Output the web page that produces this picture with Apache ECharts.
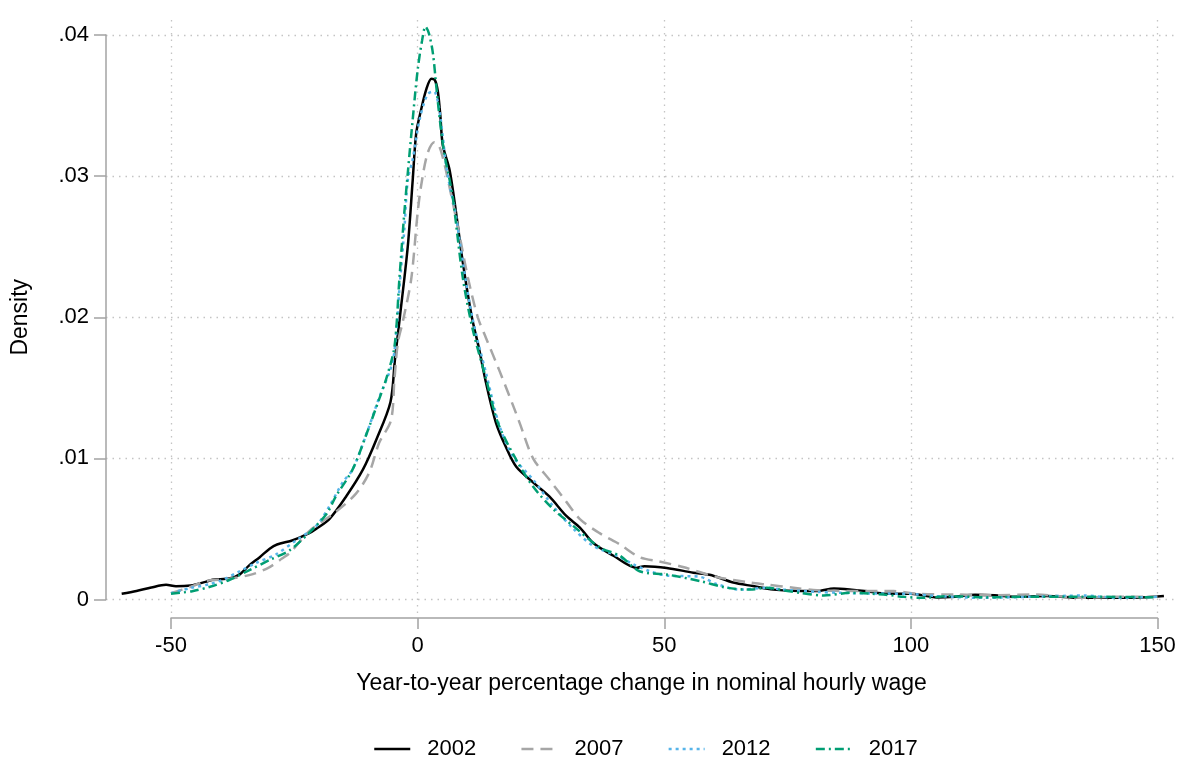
<!DOCTYPE html>
<html><head><meta charset="utf-8">
<script src="https://cdn.jsdelivr.net/npm/echarts@6/dist/echarts.min.js"></script>
<style>html,body{margin:0;padding:0;background:#fff}#c{width:1187px;height:761px}</style>
</head><body><div id="c"></div>
<script>
// Series names
const years = ['2002', '2007', '2012', '2017'];

// 2002
const x02 = [-60,-57,-54,-51,-49,-46,-43,-41.6,-38,-36,-34.2,-32,-30,-28.5,-25.3,-22,-20.6,-17.9,-14.5,-11.1,-8.4,-5.5,-4.6,-3.6,-2.0,-1.0,-0.3,0.7,1.8,2.8,3.5,4.1,4.6,5.1,6.5,7.8,9.2,11,12.5,13.9,15.9,17.9,20,23.4,26.7,30.2,32.9,35.6,39.7,44.4,46,50.5,55.9,59.2,64,68,72.1,77.5,81,84.4,88,91.2,95,100,105.3,109,113,117,121,127.6,134.4,141.8,145.2,151.3];
const y02 = [0.0004,0.0006,0.00085,0.00104,0.00094,0.001,0.00125,0.0014,0.0015,0.0018,0.0024,0.003,0.0036,0.0039,0.0042,0.0047,0.005,0.0057,0.0073,0.0092,0.0113,0.0140,0.017,0.0200,0.025,0.0297,0.033,0.0347,0.0362,0.0369,0.0368,0.036,0.0343,0.0322,0.0304,0.0274,0.0238,0.02,0.0177,0.0153,0.0125,0.0108,0.0094,0.0083,0.0073,0.0059,0.0051,0.004,0.0031,0.00224,0.00236,0.00224,0.0019,0.00175,0.0012,0.00095,0.0007,0.0006,0.0006,0.00078,0.0007,0.00058,0.0004,0.0004,0.00015,0.0002,0.00033,0.0003,0.0002,0.00024,0.00012,0.00014,0.00012,0.00024];

// 2007
const x07 = [-50,-46,-43,-40,-37.5,-33.4,-30,-27.5,-25.9,-21.8,-16.6,-12.5,-9.8,-7.8,-5.4,-4.7,-4.0,-3.0,-1.3,0,0.7,2.0,3.4,4.4,5.4,6.0,8.5,10.2,12.2,13.9,16.6,19.4,20.7,23.4,26.7,30.2,32.9,36.9,41,45,49,53.8,60.6,67.4,70.8,76.2,81,88,96.5,101.2,109.4,117,125,135.2,142,150];
const y07 = [0.00045,0.0009,0.0013,0.0014,0.0015,0.0018,0.0023,0.0029,0.0033,0.0049,0.0062,0.0075,0.009,0.0111,0.0127,0.0156,0.0182,0.0197,0.0227,0.0274,0.0293,0.0316,0.0324,0.0321,0.0309,0.030,0.0258,0.0228,0.02,0.0185,0.0162,0.0137,0.0125,0.0100,0.0085,0.0069,0.0057,0.0047,0.0039,0.0030,0.0027,0.0023,0.0016,0.0012,0.00106,0.00083,0.00066,0.0006,0.0006,0.0004,0.00035,0.0003,0.00035,0.00012,0.0002,0.0002];

// 2012
const x12 = [-50,-46.2,-42,-39.5,-36.1,-32.7,-28.7,-24.6,-20.6,-17.9,-15.2,-13.2,-10.5,-7.8,-5.1,-4.2,-3.7,-2.7,-2.0,-1.0,0.4,2.0,3.3,4.3,5.1,5.8,6.8,7.5,9.2,11.2,13.9,16.6,19.4,23.4,27.5,31.6,35.6,40.4,43.7,47.1,50.5,57.3,60.6,65.4,70.8,74.1,81,85.7,94.5,100,105.3,114.8,125,135.2,141.8,150];
const y12 = [0.00045,0.0008,0.0011,0.0014,0.002,0.0026,0.0032,0.0042,0.0052,0.0066,0.0083,0.0092,0.0116,0.0143,0.0168,0.0195,0.022,0.0262,0.0297,0.0312,0.034,0.0358,0.036,0.0349,0.0328,0.0307,0.0288,0.0278,0.0238,0.0198,0.016,0.0123,0.0101,0.0085,0.0066,0.005,0.0038,0.0031,0.0025,0.002,0.0017,0.0016,0.0011,0.0007,0.00083,0.0007,0.00054,0.00047,0.00042,0.0004,0.00024,0.00012,0.0002,0.00028,0.00012,0.00019];

// 2017
const x17 = [-50,-45.7,-42.1,-38.1,-34,-30,-25.9,-21.8,-18.4,-16.6,-13.2,-10.5,-7.8,-6.4,-4.7,-3.7,-2.7,-2.0,-1.0,0,0.9,1.6,2.3,3.1,3.8,4.5,5.4,6.5,7.2,9.2,11.2,13.9,16.3,20,23.4,27.5,31.6,36.9,41,45,50.5,57.3,62.7,67.4,70.8,75,77.5,82.3,87.7,94.5,98.6,102.6,108.1,115,125,135,150];
const y17 = [0.0004,0.00059,0.0009,0.0014,0.0021,0.0028,0.0035,0.0048,0.0061,0.0073,0.0092,0.0116,0.0142,0.0156,0.0179,0.0227,0.0274,0.0302,0.034,0.0375,0.0396,0.0406,0.0401,0.0387,0.0363,0.034,0.0316,0.0297,0.0283,0.0227,0.0191,0.0156,0.0125,0.0099,0.008,0.0064,0.0052,0.0037,0.0031,0.002,0.00177,0.0013,0.00083,0.0007,0.00083,0.0006,0.00047,0.00028,0.00047,0.00035,0.00019,0.00012,0.00024,0.00015,0.0002,0.0002,0.00015];

// Axis ticks
const xMin = -50, xMax = 150, xStep = 50;
const yMin = 0, yMax = 0.04, yStep = 0.01;
const xTitle = 'Year-to-year percentage change in nominal hourly wage';
const yTitle = 'Density';

const FONT = "'Liberation Sans', Arial, sans-serif";
const AXIS_GRAY = '#a3a3a3';
const GRID_GRAY = '#c4c4c4';

// Layout (pixels): tick range boxes and the wider plot region
const TICK_L = 171, TICK_R = 1157.5, TICK_T = 35, TICK_B = 599.5;
const PLOT_L = 106, PLOT_R = 1177, PLOT_T = 20, PLOT_B = 618;
const W = 1187, H = 761;
const pxX = (TICK_R - TICK_L) / (xMax - xMin);
const pxY = (TICK_B - TICK_T) / (yMax - yMin);
const dataXMin = xMin - (TICK_L - PLOT_L) / pxX;
const dataXMax = xMax + (PLOT_R - TICK_R) / pxX;
const dataYMin = yMin - (PLOT_B - TICK_B) / pxY;
const dataYMax = yMax + (TICK_T - PLOT_T) / pxY;

const zip = (xs, ys) => xs.map((x, i) => [x, ys[i]]);
const seriesXY = [zip(x02, y02), zip(x07, y07), zip(x12, y12), zip(x17, y17)];
const styles = [
  { color: '#000000', type: 'solid' },
  { color: '#a6a6a6', type: [12, 7] },
  { color: '#56B4E9', type: [3, 4] },
  { color: '#009E73', type: [9, 4, 2, 4] }
];

const chart = echarts.init(document.getElementById('c'), null, { renderer: 'canvas' });
chart.setOption({
  animation: false,
  backgroundColor: '#ffffff',
  textStyle: { fontFamily: FONT },
  grid: [
    { left: PLOT_L, right: W - PLOT_R, top: PLOT_T, bottom: H - PLOT_B },   // data
    { left: TICK_L, right: W - TICK_R, top: PLOT_T, bottom: H - PLOT_B },   // x axis + vertical grid
    { left: PLOT_L, right: W - PLOT_R, top: TICK_T, bottom: H - TICK_B }    // y axis + horizontal grid
  ],
  xAxis: [
    { gridIndex: 0, type: 'value', min: dataXMin, max: dataXMax, show: false },
    {
      gridIndex: 1, type: 'value', min: xMin, max: xMax, interval: xStep,
      axisLine: { show: true, onZero: false, lineStyle: { color: AXIS_GRAY, width: 1.5 } },
      axisTick: { show: true, length: 11, lineStyle: { color: AXIS_GRAY, width: 1.5 } },
      axisLabel: { fontSize: 22, color: '#000', margin: 17, fontFamily: FONT },
      splitLine: { show: true, lineStyle: { color: GRID_GRAY, width: 1.3, type: [1.5, 5] } }
    },
    {
      gridIndex: 2, type: 'value', min: 0, max: 1, show: true,
      axisLine: { show: false }, axisTick: { show: false }, axisLabel: { show: false }, splitLine: { show: false },
      name: xTitle, nameLocation: 'middle', nameGap: 73,
      nameTextStyle: { fontSize: 23, color: '#000', fontFamily: FONT }
    }
  ],
  yAxis: [
    { gridIndex: 0, type: 'value', min: dataYMin, max: dataYMax, show: false },
    { gridIndex: 1, type: 'value', min: 0, max: 1, show: false },
    {
      gridIndex: 2, type: 'value', min: yMin, max: yMax, interval: yStep,
      axisLine: { show: true, onZero: false, lineStyle: { color: AXIS_GRAY, width: 1.5 } },
      axisTick: { show: true, length: 12, lineStyle: { color: AXIS_GRAY, width: 1.5 } },
      axisLabel: {
        fontSize: 22, color: '#000', margin: 17, fontFamily: FONT,
        formatter: v => (Math.abs(v) < 1e-9 ? '0' : v.toFixed(2).replace(/^0/, ''))
      },
      splitLine: { show: true, lineStyle: { color: GRID_GRAY, width: 1.3, type: [1.5, 5] } },
      name: yTitle, nameLocation: 'middle', nameGap: 74,
      nameTextStyle: { fontSize: 23, color: '#000', fontFamily: FONT }
    }
  ],
  legend: {
    data: years,
    left: 368, top: 733,
    itemWidth: 36, itemHeight: 14, itemGap: 44,
    itemStyle: { opacity: 0 },
    lineStyle: { width: 2.5 },
    textStyle: { fontSize: 22, color: '#000', fontFamily: FONT, padding: [0, 0, 0, 12] }
  },
  series: years.map((name, i) => ({
    name, type: 'line', xAxisIndex: 0, yAxisIndex: 0,
    data: seriesXY[i], showSymbol: false, symbol: 'none', smooth: 0.3,
    lineStyle: { color: styles[i].color, width: 2.5, type: styles[i].type },
    itemStyle: { color: styles[i].color },
    emphasis: { disabled: true }
  }))
});
</script>
</body></html>
